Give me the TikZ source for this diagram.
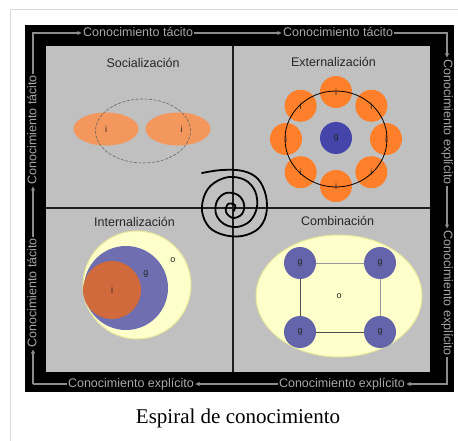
\documentclass[tikz,border=0pt]{standalone}
\usepackage{fontspec}
\setmainfont{Liberation Serif}
\setsansfont{Liberation Sans}
\usetikzlibrary{arrows.meta, positioning, shapes.geometric}
\definecolor{thumbline}{HTML}{D9D9D9}
\definecolor{panelbg}{HTML}{C0C0C0}
\definecolor{framegray}{HTML}{8C8C8C}
\definecolor{labelgray}{HTML}{A8A8A8}
\definecolor{softorange}{HTML}{F4975C}
\definecolor{brightorange}{HTML}{FF7F2A}
\definecolor{deepblue}{HTML}{4444AA}
\definecolor{slateblue}{HTML}{6E6EB0}
\definecolor{groupblue}{HTML}{6464AA}
\definecolor{rustorange}{HTML}{D0693C}
\definecolor{paleyellow}{HTML}{FFFFCC}
\definecolor{yellowedge}{HTML}{E6E69A}

\begin{document}
\begin{tikzpicture}[
        x=1pt, y=-1pt,
        font=\sffamily,
        flowlabel/.style={
            inner xsep=1pt,
            inner ysep=0pt,
            text=labelgray,
            text height=6.5pt,
            text depth=0pt,
            font=\sffamily\fontsize{12.5}{14}\selectfont
        },
        flowline/.style={draw=framegray, line width=1.5pt},
        flowarrow/.style={flowline, -{Latex[length=4.5pt, width=4.5pt]}},
        divider/.style={draw=black!88, line width=1.5pt},
        heading/.style={text=black!85, font=\sffamily\fontsize{12.5}{14}\selectfont},
        tag/.style={inner sep=0pt, text=black!85, font=\sffamily\fontsize{9}{10}\selectfont},
        ball/.style={
            circle,
            minimum size=32pt,
            inner sep=0pt,
            text=black!85,
            font=\sffamily\fontsize{9}{10}\selectfont
        },
        spiral/.style={draw=black, line width=1.8pt, line cap=round, line join=round}
    ]

    \useasboundingbox (0,0) rectangle (458,441);
    \fill[white] (0,0) rectangle (458,441);
    \draw[thumbline, line width=1pt] (10,441) -- (10,10) -- (458,10);

    % Black frame and grey panel
    \fill[black] (25,25) rectangle (454,392);
    \fill[panelbg] (46,46) rectangle (430,372);
    \draw[divider] (233,46) -- (233,372);
    \draw[divider] (46,208) -- (430,208);

    % Knowledge flow around the frame
    \coordinate (nw) at (33,33);
    \coordinate (ne) at (447,33);
    \coordinate (se) at (447,384);
    \coordinate (sw) at (33,384);

    \node[flowlabel, anchor=west] (top1) at (82,33) {Conocimiento tácito};
    \node[flowlabel, anchor=west] (top2) at (282,33) {Conocimiento tácito};
    \node[flowlabel, anchor=west, rotate=-90] (right1) at (447,58) {Conocimiento explícito};
    \node[flowlabel, anchor=west, rotate=-90] (right2) at (447,229) {Conocimiento explícito};
    \node[flowlabel, anchor=east] (bot2) at (406,384) {Conocimiento explícito};
    \node[flowlabel, anchor=east] (bot1) at (195,384) {Conocimiento explícito};
    \node[flowlabel, anchor=west, rotate=90] (left2) at (33,349) {Conocimiento tácito};
    \node[flowlabel, anchor=west, rotate=90] (left1) at (33,186) {Conocimiento tácito};

    \draw[flowarrow] (sw) -- (left2.west);
    \draw[flowarrow] (left2.east) -- (left1.west);
    \draw[flowarrow] (left1.east) -- (nw) -- (top1.west);
    \draw[flowarrow] (top1.east) -- (top2.west);
    \draw[flowarrow] (top2.east) -- (ne) -- (right1.west);
    \draw[flowarrow] (right1.east) -- (right2.west);
    \draw[flowarrow] (right2.east) -- (se) -- (bot2.east);
    \draw[flowarrow] (bot2.west) -- (bot1.east);
    \draw[flowline] (bot1.west) -- (sw);

    % Socializacion
    \node[heading] (soc) at (143,63) {Socialización};
    \node[ellipse, fill=softorange, minimum width=65pt, minimum height=33pt, tag] (socA) at (106,129) {i};
    \node[ellipse, fill=softorange, minimum width=65pt, minimum height=33pt, tag] (socB) at (178,129) {\hspace{7pt}i};
    \node[ellipse, draw=black!60, dash pattern=on 3pt off 1.5pt, line width=0.6pt,
          minimum width=95pt, minimum height=64pt] (socShared) at (143,131) {};

    % Externalizacion
    \node[heading] (ext) at (333.5,62) {Externalización};
    \node[ball, fill=deepblue] (extGroup) at (336,138) {g};
    \foreach \ang in {0,45,...,315}
        \node[ball, fill=brightorange] (ext\ang) at ({336+50*cos(\ang)}, {139+47*sin(\ang)}) {i};
    \node[ellipse, draw=black, line width=0.8pt, minimum width=102pt, minimum height=96pt] (extRing) at (336,139) {};

    % Internalizacion
    \node[heading] (int) at (134.5,222) {Internalización};
    \node[circle, fill=paleyellow, draw=yellowedge, line width=1pt, minimum size=108pt, inner sep=0pt] (intOrg) at (137,285) {};
    \node[circle, fill=slateblue, minimum size=84pt, inner sep=0pt] (intGroup) at (126,288) {};
    \node[circle, fill=rustorange, minimum size=58pt, inner sep=0pt, tag] (intSelf) at (112,290) {i};
    \node[tag] (intG) at (146,274) {g};
    \node[tag] (intO) at (173,260) {o};

    % Combinacion
    \node[heading] (comb) at (337.5,221) {Combinación};
    \node[ellipse, fill=paleyellow, draw=yellowedge, line width=1pt, minimum width=166pt, minimum height=122pt, tag] (combOrg) at (339,296) {o};
    \node[ball, fill=groupblue] (g1) at (300,263) {g};
    \node[ball, fill=groupblue] (g2) at (380,263) {g};
    \node[ball, fill=groupblue] (g3) at (300,332) {g};
    \node[ball, fill=groupblue] (g4) at (380,332) {g};
    \draw[black!40, line width=0.7pt] (g1) -- (g2);
    \draw[black!40, line width=0.7pt] (g2) -- (g4);
    \draw[black!70, line width=0.7pt] (g1) -- (g3);
    \draw[black!70, line width=0.7pt] (g3) -- (g4);

    % Spiral at the centre
    \draw[spiral] plot[smooth, tension=0.6] coordinates {
        (202,173) (222,170) (243,171) (258,179) (266,196) (266,215) (258,229)
        (242,236) (224,235) (209,227) (202,211) (205,194) (214,183) (229,177)
        (245,180) (255,191) (257,207) (250,221) (237,227) (224,224) (216,214)
        (217,201) (226,193) (238,195) (244,204) (242,214) (233,218) (226,212)
        (228,204) (235,205) (234,211)};

    % Caption
    \node[font=\rmfamily\fontsize{21}{24}\selectfont] (caption) at (238,418) {Espiral de conocimiento};

\end{tikzpicture}
\end{document}
